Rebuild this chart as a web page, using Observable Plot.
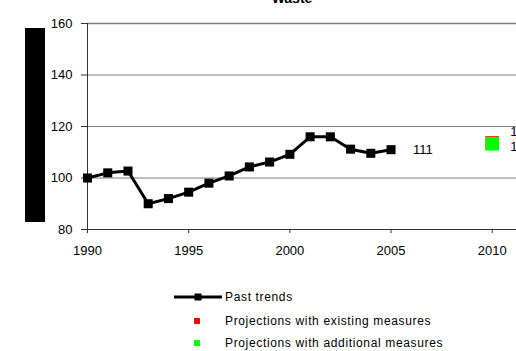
<!DOCTYPE html>
<html>
<head>
<meta charset="utf-8">
<script src="https://cdn.jsdelivr.net/npm/d3@7"></script>
<script src="https://cdn.jsdelivr.net/npm/@observablehq/plot@0.6"></script>
<style>
  html, body { margin: 0; padding: 0; background: #fff; overflow: hidden; }
  #wrap { position: relative; width: 516px; height: 351px; overflow: hidden; font-family: "Liberation Sans", Arial, sans-serif; }
  #title { position: absolute; left: 0; width: 584px; top: -9px; text-align: center; font-weight: bold; font-size: 14px; line-height: 14px; }
  #ylab { position: absolute; left: 25px; top: 28px; width: 20px; height: 194px; background: #000; }
  #chart { position: absolute; left: 0; top: 0; }
  .leg { position: absolute; left: 0; font-size: 12px; line-height: 14px; color: #000; }
  .leg span { position: absolute; left: 225px; white-space: nowrap; top: -7px; letter-spacing: 0.65px; }
  .leg svg { position: absolute; left: 0; top: -10px; overflow: visible; }
</style>
</head>
<body>
<div id="wrap">
  <div id="chart"></div>
  <div id="title">Waste</div>
  <div id="ylab"></div>
  <div id="legend"></div>
</div>
<script>
// Waste emissions index (1990 = 100): past trends and 2010 projections
const years = [1990, 1991, 1992, 1993, 1994, 1995, 1996, 1997, 1998, 1999, 2000, 2001, 2002, 2003, 2004, 2005];
const pastTrends = [100, 102, 102.7, 90, 92, 94.5, 98, 100.8, 104.3, 106.2, 109.2, 116, 116, 111.2, 109.6, 111];
const projectionYear = 2010;
const withExisting = 113.6;
const withAdditional = 113.3;
const yTicks = [80, 100, 120, 140, 160];
const xTicks = [1990, 1995, 2000, 2005, 2010];

const past = years.map((y, i) => ({year: y, value: pastTrends[i]}));
const lastPast = past[past.length - 1];
const existing = [{year: projectionYear, value: withExisting}];
const additional = [{year: projectionYear, value: withAdditional}];
const fmt = d => String(Math.round(d.value));

const chart = Plot.plot({
  width: 516,
  height: 270,
  marginLeft: 87,
  marginRight: 0,
  marginTop: 23,
  marginBottom: 41,
  style: {fontFamily: "Liberation Sans, Arial, sans-serif", fontSize: "13px", color: "#000", background: "transparent"},
  x: {domain: [1990, 2011.2], label: null},
  y: {domain: [80, 160], label: null},
  marks: [
    Plot.ruleY(yTicks.filter(v => v > 80), {stroke: "#7f7f7f", strokeWidth: v => v === 160 ? 1.6 : 1, strokeOpacity: 1}),
    Plot.ruleY([80], {stroke: "#333", strokeWidth: 1}),
    Plot.ruleX([1990], {stroke: "#333", strokeWidth: 1}),
    Plot.axisX({ticks: xTicks, tickFormat: d => String(d), tickSize: 4, tickPadding: 12, stroke: "#333", fontSize: 13}),
    Plot.axisY({ticks: yTicks, tickSize: 6, tickPadding: 9, stroke: "#333", fontSize: 13}),
    Plot.line(past, {x: "year", y: "value", stroke: "#000", strokeWidth: 3}),
    Plot.dot(past, {x: "year", y: "value", symbol: "square", r: 5.1, fill: "#000", stroke: "none"}),
    Plot.text([lastPast], {x: "year", y: "value", text: fmt, dx: 22, textAnchor: "start", fontSize: 13, fill: "#000"}),
    Plot.dot(existing, {x: "year", y: "value", symbol: "square", r: 7.7, fill: "#ff0000", stroke: "none"}),
    Plot.dot(additional, {x: "year", y: "value", symbol: "square", r: 7.7, fill: "#00ff00", stroke: "none"}),
    Plot.text(existing, {x: "year", y: "value", text: fmt, dx: 18, dy: -11, textAnchor: "start", fontSize: 13, fill: "#000"}),
    Plot.text(additional, {x: "year", y: "value", text: fmt, dx: 18, dy: 3, textAnchor: "start", fontSize: 13, fill: "#000"})
  ]
});
document.getElementById("chart").appendChild(chart);

// Legend below the plot
const legend = document.getElementById("legend");
const entries = [
  {label: "Past trends", kind: "line", top: 297},
  {label: "Projections with existing measures", kind: "square", color: "#ff0000", top: 321},
  {label: "Projections with additional measures", kind: "square", color: "#00ff00", top: 343}
];
const ns = "http://www.w3.org/2000/svg";
for (const e of entries) {
  const row = document.createElement("div");
  row.className = "leg";
  row.style.top = e.top + "px";
  const svg = document.createElementNS(ns, "svg");
  svg.setAttribute("width", 230);
  svg.setAttribute("height", 20);
  if (e.kind === "line") {
    const l = document.createElementNS(ns, "line");
    l.setAttribute("x1", 174); l.setAttribute("x2", 222);
    l.setAttribute("y1", 10); l.setAttribute("y2", 10);
    l.setAttribute("stroke", "#000"); l.setAttribute("stroke-width", 3);
    svg.appendChild(l);
    const m = document.createElementNS(ns, "rect");
    m.setAttribute("x", 194.5); m.setAttribute("y", 6.5); m.setAttribute("width", 7); m.setAttribute("height", 7);
    m.setAttribute("fill", "#000");
    svg.appendChild(m);
  } else {
    const m = document.createElementNS(ns, "rect");
    m.setAttribute("x", 194); m.setAttribute("y", 7); m.setAttribute("width", 6); m.setAttribute("height", 6);
    m.setAttribute("fill", e.color);
    svg.appendChild(m);
  }
  row.appendChild(svg);
  const s = document.createElement("span");
  s.textContent = e.label;
  row.appendChild(s);
  legend.appendChild(row);
}
</script>
</body>
</html>
